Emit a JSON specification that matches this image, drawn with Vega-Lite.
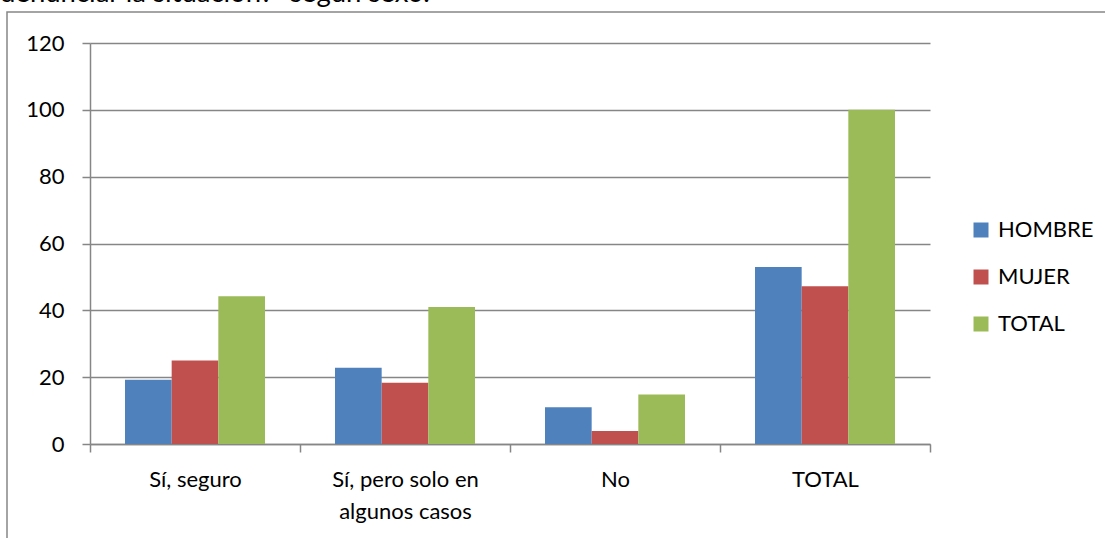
{
  "$schema": "https://vega.github.io/schema/vega-lite/v6.json",
  "autosize": {"type": "none"},
  "padding": {"left": 7, "top": 12, "right": 0, "bottom": 0},
  "width": 1110,
  "height": 540,
  "background": "white",
  "title": {
    "text": "denunciar la situación?\" según sexo.",
    "anchor": "start",
    "frame": "group",
    "dx": -7,
    "dy": 24,
    "offset": 7,
    "baseline": "alphabetic",
    "font": "Lato",
    "fontSize": 27.5,
    "fontWeight": "normal",
    "color": "#000000"
  },
  "data": {
    "values": [
      {"categoria": "Sí, seguro", "serie": "HOMBRE", "valor": 19.2},
      {"categoria": "Sí, seguro", "serie": "MUJER", "valor": 25.0},
      {"categoria": "Sí, seguro", "serie": "TOTAL", "valor": 44.2},
      {"categoria": "Sí, pero solo en algunos casos", "serie": "HOMBRE", "valor": 22.8},
      {"categoria": "Sí, pero solo en algunos casos", "serie": "MUJER", "valor": 18.3},
      {"categoria": "Sí, pero solo en algunos casos", "serie": "TOTAL", "valor": 41.0},
      {"categoria": "No", "serie": "HOMBRE", "valor": 11.0},
      {"categoria": "No", "serie": "MUJER", "valor": 3.9},
      {"categoria": "No", "serie": "TOTAL", "valor": 14.8},
      {"categoria": "TOTAL", "serie": "HOMBRE", "valor": 53.0},
      {"categoria": "TOTAL", "serie": "MUJER", "valor": 47.2},
      {"categoria": "TOTAL", "serie": "TOTAL", "valor": 100}
    ]
  },
  "mark": {"type": "bar"},
  "encoding": {
    "x": {
      "field": "categoria",
      "type": "nominal",
      "sort": null,
      "scale": {"range": [83, 923], "paddingInner": 0, "paddingOuter": 0},
      "axis": {
        "title": null,
        "orient": "bottom",
        "offset": -108,
        "labelAngle": 0,
        "tickBand": "extent",
        "tickSize": 8,
        "labelPadding": 17,
        "labelLineHeight": 32,
        "labelExpr": "datum.value == 'Sí, pero solo en algunos casos' ? ['Sí, pero solo en', 'algunos casos'] : datum.label",
        "domainColor": "#868686",
        "domainWidth": 1.5,
        "tickColor": "#868686",
        "tickWidth": 1.5,
        "labelFont": "Lato",
        "labelFontSize": 22,
        "labelColor": "#000000",
        "grid": false
      }
    },
    "xOffset": {
      "field": "serie",
      "type": "nominal",
      "sort": ["HOMBRE", "MUJER", "TOTAL"],
      "scale": {"paddingInner": 0, "paddingOuter": 0.75}
    },
    "y": {
      "field": "valor",
      "type": "quantitative",
      "scale": {"domain": [0, 120], "range": [432, 31], "nice": false, "zero": true},
      "axis": {
        "title": null,
        "orient": "left",
        "offset": -83,
        "values": [0, 20, 40, 60, 80, 100, 120],
        "tickSize": 8,
        "labelPadding": 18,
        "domainColor": "#868686",
        "domainWidth": 1.5,
        "tickColor": "#868686",
        "tickWidth": 1.5,
        "gridColor": "#868686",
        "gridWidth": 1.5,
        "grid": true,
        "labelFont": "Lato",
        "labelFontSize": 22,
        "labelColor": "#000000"
      }
    },
    "color": {
      "field": "serie",
      "type": "nominal",
      "sort": ["HOMBRE", "MUJER", "TOTAL"],
      "scale": {"domain": ["HOMBRE", "MUJER", "TOTAL"], "range": ["#4F81BD", "#C0504D", "#9BBB59"]},
      "legend": {
        "title": null,
        "orient": "none",
        "legendX": 963,
        "legendY": 207,
        "symbolType": "square",
        "symbolSize": 225,
        "symbolStrokeWidth": 0,
        "symbolOpacity": 1,
        "rowPadding": 25,
        "labelOffset": 6,
        "labelFont": "Lato",
        "labelFontSize": 22,
        "labelColor": "#000000"
      }
    }
  },
  "config": {
    "view": {"stroke": "#868686", "strokeWidth": 1.5},
    "axis": {"gridDash": []}
  }
}
